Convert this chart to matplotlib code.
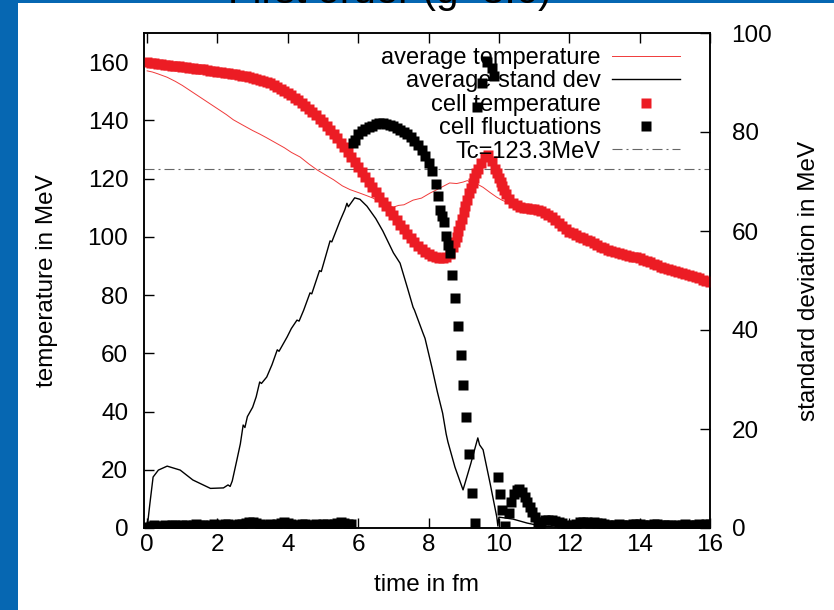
import numpy as np
import matplotlib
matplotlib.use("Agg")
import matplotlib.pyplot as plt
from matplotlib.patches import Rectangle

plt.rcParams['font.family'] = ['Liberation Sans', 'DejaVu Sans']

# ---------------- data ----------------
title = "First order (g=3.6)"
x_label = "time in fm"
y_label_left = "temperature in MeV"
y_label_right = "standard deviation in MeV"
x_ticks = [0, 2, 4, 6, 8, 10, 12, 14, 16]
y_ticks_left = [0, 20, 40, 60, 80, 100, 120, 140, 160]
y_ticks_right = [0, 20, 40, 60, 80, 100]
Tc = 123.3

# average temperature (left axis)
avgT_t = [0, 0.15, 0.3, 0.57, 0.8, 1.0, 1.25, 1.5, 1.75, 2.0,
          2.25, 2.45, 2.7, 3.0, 3.2, 3.4, 3.65, 3.9, 4.1, 4.35,
          4.6, 4.83, 5.05, 5.3, 5.55, 5.77, 6.05, 6.25, 6.42, 6.7,
          7.0, 7.15, 7.3, 7.56, 7.8, 8.04, 8.3, 8.6, 8.8, 8.98,
          9.1, 9.26, 9.4, 9.55, 9.75, 9.94, 10.1, 10.3, 10.6, 11.0,
          11.5, 12.0, 12.5, 13.0, 13.5, 14.0, 14.5, 15.0, 15.5, 16.0]
avgT = [157.0, 156.6, 156.0, 154.8, 153.4, 152.0, 150.0, 148.0, 146.0, 144.0,
        142.0, 140.2, 138.5, 136.5, 135.3, 134.0, 132.3, 130.6, 129.0, 127.4,
        125.0, 123.0, 121.4, 119.6, 117.5, 116.2, 115.0, 114.1, 113.3, 111.5,
        110.2, 110.8, 111.0, 112.6, 113.3, 115.0, 116.6, 118.5, 118.3, 118.8,
        119.3, 118.5, 118.0, 117.0, 115.2, 113.6, 112.5, 111.6, 111.0, 109.5,
        106.5, 102.5, 99.3, 96.5, 94.5, 92.8, 90.5, 88.5, 86.6, 84.8]

# average standard deviation (right axis)
std_t = [0, 0.08, 0.17, 0.32, 0.57, 0.94, 1.3, 1.8, 2.17, 2.3,
         2.36, 2.42, 2.55, 2.65, 2.73, 2.78, 2.85, 3.0, 3.1, 3.2,
         3.25, 3.4, 3.55, 3.7, 3.75, 3.98, 4.1, 4.26, 4.32, 4.45,
         4.63, 4.68, 4.9, 4.95, 5.2, 5.25, 5.48, 5.62, 5.68, 5.72,
         5.9, 6.05, 6.25, 6.5, 6.7, 7.0, 7.19, 7.4, 7.56, 7.6,
         7.84, 7.9, 8.1, 8.25, 8.4, 8.5, 8.55, 8.75, 8.98, 9.2,
         9.4, 9.45, 9.55, 9.75, 9.94, 9.97, 10.0, 10.4, 10.8, 11.2,
         11.6, 16.0]
std = [0, 5.0, 10.3, 11.7, 12.5, 11.7, 9.7, 8.0, 8.1, 8.7,
       8.4, 9.5, 13.7, 17.0, 20.8, 20.3, 22.5, 24.4, 26.5, 29.5,
       29.2, 30.5, 33.0, 36.0, 35.7, 38.6, 40.3, 42.0, 41.8, 44.0,
       47.5, 47.3, 52.0, 51.8, 58.0, 57.8, 62.0, 64.3, 65.6, 64.9,
       66.7, 66.4, 65.0, 62.5, 60.0, 55.6, 53.5, 48.5, 44.6, 44.0,
       39.4, 38.3, 32.3, 27.5, 23.2, 19.0, 17.4, 12.3, 7.7, 13.0,
       18.2, 16.8, 15.8, 9.0, 2.2, 0.4, 2.2, 1.8, 1.0, 0.4,
       0.2, 0.1]

# cell temperature (left axis), sampled every 0.1 fm from t = 0
cellT = [160.0,
         159.8, 159.7, 159.5, 159.3, 159.1, 158.9, 158.8, 158.6, 158.5, 158.3,
         158.2, 158.0, 157.9, 157.8, 157.6, 157.5, 157.3, 157.1, 156.9, 156.7,
         156.5, 156.4, 156.2, 156.0, 155.8, 155.6, 155.4, 155.2, 154.9, 154.6,
         154.3, 154.0, 153.6, 153.2, 152.7, 152.2, 151.6, 150.9, 150.2, 149.4,
         148.6, 147.8, 146.9, 146.0, 145.0, 144.0, 142.9, 141.8, 140.6, 139.4,
         138.1, 136.8, 135.4, 133.9, 132.3, 130.7, 129.0, 127.3, 125.6, 123.9,
         122.2, 120.5, 118.8, 117.1, 115.4, 113.8, 112.1, 110.5, 108.9, 107.4,
         105.8, 104.2, 102.6, 101.0, 99.6, 98.2, 96.9, 95.8, 94.8, 94.0,
         93.4, 93.0, 92.7, 92.6, 93.0, 94.2, 96.5, 100.0, 104.0, 108.5,
         112.8, 116.8, 120.3, 123.3, 125.5, 127.5, 128.0, 126.0, 123.3, 120.3,
         117.3, 114.8, 113.0, 111.7, 110.8, 110.3, 110.0, 109.8, 109.6, 109.4,
         109.1, 108.7, 108.2, 107.5, 106.7, 105.8, 104.8, 103.8, 102.8, 101.8,
         101.2, 100.6, 100.1, 99.6, 99.0, 98.4, 97.8, 97.2, 96.6, 96.1,
         95.6, 95.2, 94.8, 94.5, 94.2, 93.9, 93.5, 93.2, 92.9, 92.6,
         92.2, 91.8, 91.3, 90.8, 90.3, 89.8, 89.4, 89.0, 88.6, 88.2,
         87.8, 87.5, 87.1, 86.8, 86.5, 86.1, 85.7, 85.3, 84.9, 84.5]
# extra cell temperature samples on the steep parts
cellT_extra_t = [8.75, 8.85, 8.95, 9.05, 9.15, 9.25, 9.35, 9.95, 10.05, 10.15]
cellT_extra = [98.2, 102.0, 106.2, 110.7, 114.9, 118.6, 121.9, 121.8, 118.8, 116.0]

# cell fluctuations (right axis)
fluct_early = [0.3, 0.5, 0.6, 0.5, 0.4, 0.6, 0.5, 0.7, 0.6, 0.5,
               0.6, 0.7, 0.5, 0.6, 0.8, 0.7, 0.6, 0.5, 0.7, 0.8,
               0.6, 0.7, 0.8, 0.9, 0.7, 0.6, 0.8, 0.9, 1.0, 1.2,
               1.3, 1.1, 0.9, 0.7, 0.6, 0.8, 0.7, 0.9, 1.1, 1.2,
               1.0, 0.8, 0.7, 0.6, 0.8, 0.9, 0.7, 0.6, 0.8, 0.7,
               0.9, 0.8, 0.7, 0.9, 1.0, 1.2, 1.1, 0.9, 0.8]   # t = 0.0 .. 5.8
fluct_mid_t = [5.85, 5.9, 6.0, 6.1, 6.2, 6.3, 6.4, 6.5, 6.6, 6.7,
               6.8, 6.9, 7.0, 7.1, 7.2, 7.3, 7.4, 7.5, 7.6, 7.7,
               7.8, 7.9, 8.0, 8.1, 8.2, 8.27, 8.32, 8.38, 8.45, 8.5,
               8.56, 8.61, 8.66, 8.75, 8.83, 8.92, 8.99, 9.07, 9.16, 9.23,
               9.32, 9.37, 9.52, 9.66, 9.8, 9.86,
               9.97, 10.03, 10.09, 10.17, 10.28, 10.35, 10.42, 10.5, 10.58, 10.66,
               10.74, 10.81, 10.88, 10.95, 11.02, 11.1, 11.17]
fluct_mid = [77.8, 78.3, 79.6, 80.2, 80.6, 81.0, 81.3, 81.6, 81.8, 81.8,
             81.7, 81.5, 81.2, 80.9, 80.5, 80.1, 79.6, 79.0, 78.2, 77.3,
             76.3, 75.2, 73.8, 72.2, 69.5, 67.0, 64.2, 63.0, 61.9, 58.9,
             57.2, 55.6, 51.1, 46.5, 40.8, 34.9, 28.9, 22.5, 14.9, 7.1,
             1.1, 85.0, 89.8, 94.1, 92.9, 91.3,
             10.3, 6.9, 3.6, 0.4, 3.0, 5.2, 6.8, 7.6, 7.8, 7.3,
             6.3, 5.3, 4.2, 3.2, 2.2, 1.3, 0.6]
fluct_late = [1.2, 1.6, 1.7, 1.6, 1.5, 1.3, 1.0, 0.6, 0.5, 0.6,
              0.9, 1.2, 1.3, 1.2, 1.1, 1.2, 1.1, 1.0, 0.9, 0.7,
              0.6, 0.7, 0.8, 0.7, 0.6, 0.7, 0.8, 0.9, 0.8, 0.7,
              0.6, 0.7, 0.9, 0.8, 0.7, 0.6, 0.7, 0.6, 0.5, 0.6,
              0.7, 0.8, 0.7, 0.6, 0.7, 0.8, 0.7, 0.8, 0.9]   # t = 11.2 .. 16.0

# ---------------- assemble ----------------
cellT_t = list(np.round(0.1 * np.arange(len(cellT)), 2)) + cellT_extra_t
cellT_all = cellT + cellT_extra
fl_t = (list(np.round(0.1 * np.arange(len(fluct_early)), 2)) + fluct_mid_t +
        list(np.round(11.2 + 0.1 * np.arange(len(fluct_late)), 2)))
fl_v = fluct_early + fluct_mid + fluct_late

# ---------------- figure ----------------
W, H = 834, 610
fig = plt.figure(figsize=(W / 100, H / 100), dpi=100)
fig.patch.set_facecolor('#0667b2')
fig.add_artist(Rectangle((18 / W, 0), 1 - 18 / W, 1 - 3 / H, transform=fig.transFigure,
                         facecolor='white', edgecolor='none', zorder=-5))
fig.text(390 / W, 1 - 3 / H, title, ha='center', va='baseline', fontsize=29,
         color='black', zorder=-4)

L, R, T, B = 143.6, 710.0, 33.0, 528.0
ax = fig.add_axes([L / W, 1 - B / H, (R - L) / W, (B - T) / H])
ax.set_facecolor('none')
ax2 = ax.twinx()

red = '#ec1c24'
fs = 17.5

h_avgT, = ax.plot(avgT_t, avgT, color='#f03a3a', lw=0.7, zorder=2)
h_tc = ax.axhline(Tc, color='#666666', lw=0.8, dashes=(9, 3.6, 1.8, 3.6), zorder=1)
h_cellT, = ax.plot(cellT_t, cellT_all, ls='none', marker='s', ms=7.9, color=red,
                   mec='none', zorder=3)

h_std, = ax2.plot(std_t, std, color='black', lw=1.0, zorder=2)
h_fl, = ax2.plot(fl_t, fl_v, ls='none', marker='s', ms=7.2, color='black',
                 mec='none', zorder=3)

ax.set_xlim(-0.1, 16)
ax.set_ylim(0, 170)
ax2.set_ylim(0, 100)
ax.set_xticks(x_ticks)
ax.set_yticks(y_ticks_left)
ax2.set_yticks(y_ticks_right)

for a in (ax, ax2):
    for s in a.spines.values():
        s.set_linewidth(1.1)
ax.tick_params(axis='x', direction='in', length=7.2, width=1.0, top=True,
               labelsize=fs, pad=4)
ax.tick_params(axis='y', direction='in', length=7.2, width=1.0, right=False,
               labelsize=fs, pad=11)
ax2.tick_params(axis='y', direction='in', length=7.2, width=1.0, labelsize=fs,
                pad=15.5)

ax.set_xlabel(x_label, fontsize=fs, va='center')
ax.xaxis.set_label_coords(0.5, (B - 585) / (B - T))
ax.set_ylabel(y_label_left, fontsize=fs, va='center', ha='center')
ax.yaxis.set_label_coords((47 - L) / (R - L), 0.5)
ax2.set_ylabel(y_label_right, fontsize=fs, va='center', ha='center', rotation=90)
ax2.yaxis.set_label_coords((809 - L) / (R - L), 0.5)

handles = [h_avgT, h_std, h_cellT, h_fl, h_tc]
labels = ["average temperature", "average stand dev", "cell temperature",
          "cell fluctuations", "Tc=123.3MeV"]
leg = ax2.legend(handles, labels, loc='upper right', frameon=False, markerfirst=False,
                 fontsize=17, handlelength=2.9, handletextpad=0.45, labelspacing=0.06,
                 borderpad=0, borderaxespad=0, numpoints=1,
                 bbox_to_anchor=((680 - L) / (R - L), (B - 47) / (B - T)))
leg.set_zorder(1)

fig.savefig('out.png', dpi=100, facecolor=fig.get_facecolor())
